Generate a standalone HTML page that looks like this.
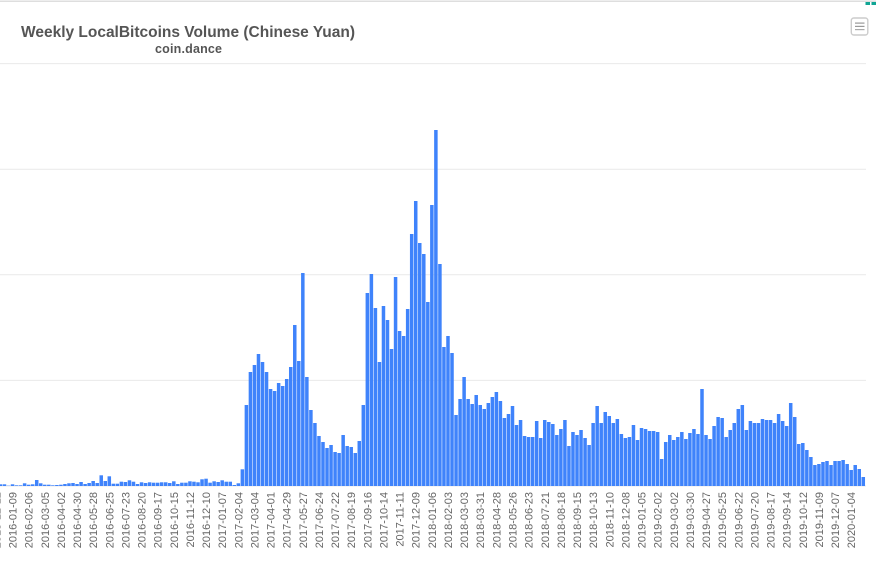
<!DOCTYPE html>
<html lang="en">
<head>
<meta charset="utf-8">
<title>Weekly LocalBitcoins Volume (Chinese Yuan)</title>
<style>
html,body{margin:0;padding:0;background:#fff;width:876px;height:563px;overflow:hidden}
svg{display:block;font-family:"Liberation Sans",sans-serif}
</style>
</head>
<body>
<svg id="chart" width="876" height="563" viewBox="0 0 876 563" xmlns="http://www.w3.org/2000/svg">
  <rect x="0" y="0.5" width="876" height="1.5" fill="#dedede"/>
  <rect x="865.5" y="2" width="4.5" height="3" fill="#10a594"/>
  <rect x="871.5" y="2" width="4.5" height="3" fill="#10a594"/>
  <g id="grid"></g>
  <g id="bars"></g>
  <g id="xaxis"></g>
  <text x="21" y="37" font-size="15.5" font-weight="bold" fill="#555" textLength="334" lengthAdjust="spacing">Weekly LocalBitcoins Volume (Chinese Yuan)</text>
  <text x="155" y="53" font-size="12.5" font-weight="bold" fill="#555" textLength="67" lengthAdjust="spacing">coin.dance</text>
  <g>
    <rect x="851.3" y="18" width="16.5" height="17" rx="2.5" fill="#fff" stroke="#ccc" stroke-width="1.4"/>
    <rect x="855" y="22.5" width="9.5" height="1.2" fill="#999"/>
    <rect x="855" y="25.8" width="9.5" height="1.2" fill="#999"/>
    <rect x="855" y="29" width="9.5" height="1.2" fill="#aaa"/>
  </g>
</svg>
<script>
const tickLabels = ["2015-12-12","2016-01-09","2016-02-06","2016-03-05","2016-04-02","2016-04-30","2016-05-28","2016-06-25","2016-07-23","2016-08-20","2016-09-17","2016-10-15","2016-11-12","2016-12-10","2017-01-07","2017-02-04","2017-03-04","2017-04-01","2017-04-29","2017-05-27","2017-06-24","2017-07-22","2017-08-19","2017-09-16","2017-10-14","2017-11-11","2017-12-09","2018-01-06","2018-02-03","2018-03-03","2018-03-31","2018-04-28","2018-05-26","2018-06-23","2018-07-21","2018-08-18","2018-09-15","2018-10-13","2018-11-10","2018-12-08","2019-01-05","2019-02-02","2019-03-02","2019-03-30","2019-04-27","2019-05-25","2019-06-22","2019-07-20","2019-08-17","2019-09-14","2019-10-12","2019-11-09","2019-12-07","2020-01-04"];
const weeksPerTick = 4;
const volume = [
1,1.7,1.7,.3,1.7,.7,.7,2.7,1.3,1.7,
6,2.7,1.3,1.3,.7,1,1.3,2,2.7,3,
2,4,2,3,5,3,10.7,5,9.7,2.3,
2.3,4.3,4,5.7,4.3,2,3.7,3,3.7,3.3,
3.3,3.7,3.7,3,4.7,2,3.3,3.3,4.7,4.3,
3.7,6.7,7.3,3.3,4.7,4,5.7,4.3,4.3,1,
2.7,16.7,81,114,121,132,124,114,97,95,
103,100,107,119,161,125,213,109,76,63,
50,44,38,41,34,33,51,40,39,33,
45,81,193,212,178,124,180,166,137,209,
155,150,177,252,285,243,232,184,281,356,
222,139,150,133,71,87,109,87,82,91,
81,77,83,89,94,85,68,72,80,61,
66,50,49,49,65,48,66,64,62,51,
57,66,40,54,51,56,48,41,63,80,
63,74,70,63,67,52,48,49,61,46,
58,57,55,55,54,27,44,51,46,49,
54,47,53,57,52,97,51,47,60,69,
68,49,56,63,77,81,56,65,63,63,
67,66,66,63,72,65,60,83,69,42,
43,36,29,21,22,24,25,21,25,25,
26,22,16,21,17,9
];
const gridTicks = [0,1,2,3,4];
const gridUnit = 105.6;

const svgNS = "http://www.w3.org/2000/svg";
const baseY = 486, plotRight = 866, barWidth = 3.5;
function xScale(i){ return -3.6 + 4.032 * i; }
function yScale(v){ return baseY - v; }

const gridGroup = document.getElementById("grid");
gridTicks.forEach(function(t){
  const line = document.createElementNS(svgNS, "line");
  
  
  const y = yScale(t * gridUnit);
  line.setAttribute("x1", 0);
  line.setAttribute("x2", plotRight);
  line.setAttribute("y1", y);
  line.setAttribute("y2", y);
  line.setAttribute("stroke", "#e9e9e9");
  line.setAttribute("stroke-width", "1");
  gridGroup.appendChild(line);
});

const barGroup = document.getElementById("bars");
volume.forEach(function(v, i){
  const r = document.createElementNS(svgNS, "rect");
  
  
  r.setAttribute("x", xScale(i) - barWidth / 2);
  r.setAttribute("y", yScale(v));
  r.setAttribute("width", barWidth);
  r.setAttribute("height", baseY - yScale(v));
  r.setAttribute("fill", "#3f83fb");
  barGroup.appendChild(r);
});

const axisGroup = document.getElementById("xaxis");
tickLabels.forEach(function(label, k){
  const t = document.createElementNS(svgNS, "text");
  
  
  const x = xScale(k * weeksPerTick) + 4;
  t.setAttribute("transform", "translate(" + x + ",492) rotate(-90)");
  t.setAttribute("text-anchor", "end");
  t.setAttribute("font-size", "11");
  t.setAttribute("fill", "#666");
  t.textContent = label;
  axisGroup.appendChild(t);
});
</script>
</body>
</html>
